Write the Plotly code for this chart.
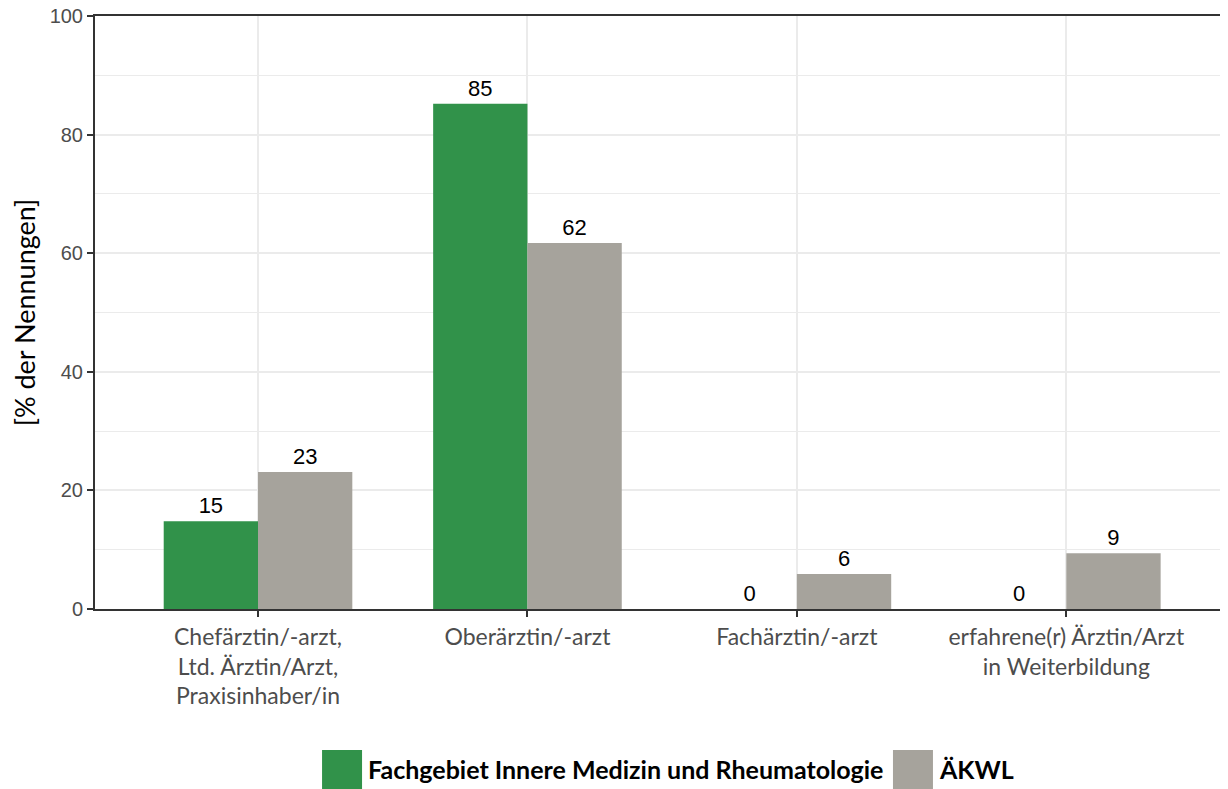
import plotly.graph_objects as go

categories = ["Chefärztin/-arzt,<br>Ltd. Ärztin/Arzt,<br>Praxisinhaber/in",
              "Oberärztin/-arzt",
              "Fachärztin/-arzt",
              "erfahrene(r) Ärztin/Arzt<br>in Weiterbildung"]
series_names = ["Fachgebiet Innere Medizin und Rheumatologie", "ÄKWL"]
fach_values = [14.8, 85.2, 0.0, 0.0]
aekwl_values = [23.1, 61.7, 5.9, 9.4]
y_ticks = [0, 20, 40, 60, 80, 100]

GREEN = "#31924a"
GREY = "#a6a39c"

x_pos = list(range(len(categories)))

fig = go.Figure()
fig.add_trace(go.Bar(x=x_pos, y=fach_values, name=series_names[0],
                     marker=dict(color=GREEN, line=dict(width=0)),
                     texttemplate="%{y:.0f}", textposition="outside",
                     textfont=dict(family="Liberation Sans, Arial", size=22, color="black")))
fig.add_trace(go.Bar(x=x_pos, y=aekwl_values, name=series_names[1],
                     marker=dict(color=GREY, line=dict(width=0)),
                     texttemplate="%{y:.0f}", textposition="outside",
                     textfont=dict(family="Liberation Sans, Arial", size=22, color="black")))

# the page body adds an 8px offset, so margins are trimmed to match
fig.update_layout(
    width=1228, height=789,
    barmode="group", bargap=0.3, bargroupgap=0,
    plot_bgcolor="white", paper_bgcolor="white",
    margin=dict(l=87, r=8, t=8, b=188, autoexpand=False),
    showlegend=False,
)
fig.update_xaxes(range=[-0.605, 3.6], tickvals=x_pos, ticktext=categories,
                 automargin=False,
                 showgrid=True, gridcolor="#ebebeb", gridwidth=2,
                 showline=True, linecolor="#333333", linewidth=2, mirror=True,
                 ticks="outside", ticklen=6, tickcolor="#333333", tickwidth=2,
                 tickfont=dict(family="Lato", size=23, color="#4d4d4d"))
fig.update_yaxes(range=[0, 100], tickvals=y_ticks, ticklabeloverflow="allow",
                 automargin=False,
                 showgrid=True, gridcolor="#ebebeb", gridwidth=2,
                 minor=dict(dtick=10, showgrid=True, gridcolor="#ebebeb", gridwidth=1),
                 showline=True, linecolor="#333333", linewidth=2,
                 ticks="outside", ticklen=6, tickcolor="#333333", tickwidth=2,
                 zeroline=False,
                 tickfont=dict(family="Liberation Sans, Arial", size=20, color="#4d4d4d"),
                 title=dict(text="[% der Nennungen]", standoff=6,
                            font=dict(family="Lato", size=27, color="black")))

# legend drawn by hand so the swatches can be large squares
legend_items = [(series_names[0], GREEN, 0.2004), (series_names[1], GREY, 0.7043)]
for name, col, x0 in legend_items:
    fig.add_shape(type="rect", xref="paper", yref="paper",
                  x0=x0, x1=x0 + 0.0353, y0=-0.3035, y1=-0.2378,
                  fillcolor=col, line=dict(width=0))
    fig.add_annotation(xref="paper", yref="paper", x=x0 + 0.0388, y=-0.2706,
                       text="<b>" + name + "</b>", showarrow=False,
                       xanchor="left", yanchor="middle",
                       font=dict(family="Lato", size=25, color="black"))

fig.write_html("out.html")
